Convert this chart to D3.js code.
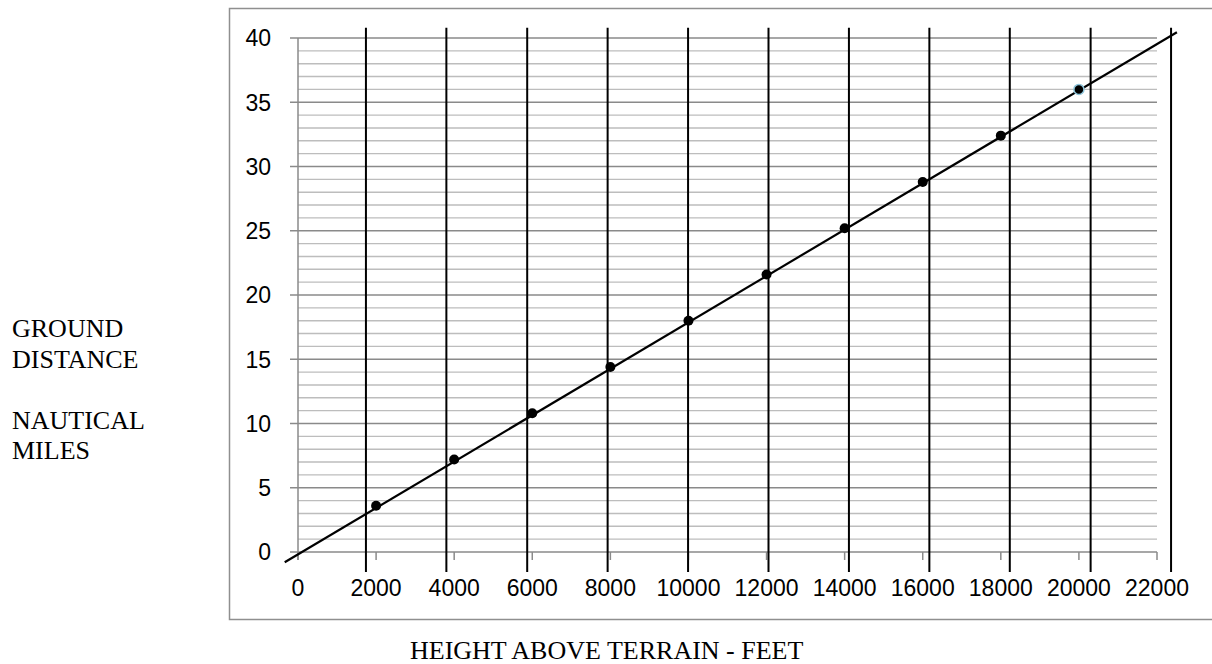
<!DOCTYPE html>
<html>
<head>
<meta charset="utf-8">
<script src="https://cdn.jsdelivr.net/npm/d3@7.9.0/dist/d3.min.js"></script>
<style>
  body { margin: 0; background: #fff; }
  svg { display: block; }
  .tick-label { font-family: "Liberation Sans", Arial, sans-serif; font-size: 23px; fill: #000; }
  .title { font-family: "Liberation Serif", "Times New Roman", serif; font-size: 26px; fill: #000; }
</style>
</head>
<body>
<svg id="chart" width="1212" height="664"></svg>
<script>
// Data
const heights   = [2000, 4000, 6000, 8000, 10000, 12000, 14000, 16000, 18000, 20000];
const distances = [3.6, 7.2, 10.8, 14.4, 18, 21.6, 25.2, 28.8, 32.4, 36];
const xTicks    = [0, 2000, 4000, 6000, 8000, 10000, 12000, 14000, 16000, 18000, 20000, 22000];
const yTicks    = [0, 5, 10, 15, 20, 25, 30, 35, 40];
const yMinor    = [1, 2, 3, 4, 6, 7, 8, 9, 11, 12, 13, 14, 16, 17, 18, 19, 21, 22, 23, 24,
                   26, 27, 28, 29, 31, 32, 33, 34, 36, 37, 38, 39];
// hand-drawn vertical rules (in feet) and their vertical extent (in NM)
const ruleX     = [1740, 3800, 5870, 7930, 9990, 12050, 14110, 16170, 18230, 20300, 22360];
const ruleSpan  = [-1.55, 40.8];
// drawn best-fit line endpoints
const trendX    = [-340, 22510];
const trendY    = [-0.8, 40.45];
const yLabel    = ["GROUND", "DISTANCE", "", "NAUTICAL", "MILES"];
const xLabel    = "HEIGHT ABOVE TERRAIN - FEET";

const svg = d3.select('#chart');

const x = d3.scaleLinear().domain([0, 22000]).range([298, 1157]);
const y = d3.scaleLinear().domain([0, 40]).range([552, 38]);

// outer frame
svg.append('rect')
  .attr('x', 229.5).attr('y', 8.5)
  .attr('width', 1000).attr('height', 611)
  .attr('fill', 'none').attr('stroke', '#8f8f8f').attr('stroke-width', 1.5);

// minor horizontal gridlines
svg.append('g').selectAll('line').data(yMinor).join('line')
  .attr('x1', x(0)).attr('x2', x(22000))
  .attr('y1', d => y(d)).attr('y2', d => y(d))
  .attr('stroke', '#bdbdbd').attr('stroke-width', 1.4);

// major gridlines + y axis ticks
svg.append('g').selectAll('line').data(yTicks).join('line')
  .attr('x1', x(0) - 8).attr('x2', x(22000))
  .attr('y1', d => y(d)).attr('y2', d => y(d))
  .attr('stroke', '#8a8a8a').attr('stroke-width', 1.5);

// y axis line
svg.append('line')
  .attr('x1', x(0)).attr('x2', x(0))
  .attr('y1', y(40)).attr('y2', y(0) + 8)
  .attr('stroke', '#8a8a8a').attr('stroke-width', 1.5);

// x axis ticks
svg.append('g').selectAll('line').data(xTicks).join('line')
  .attr('x1', d => x(d)).attr('x2', d => x(d))
  .attr('y1', y(0)).attr('y2', y(0) + 8)
  .attr('stroke', '#8a8a8a').attr('stroke-width', 1.5);

// tick labels
svg.append('g').selectAll('text').data(yTicks).join('text')
  .attr('class', 'tick-label')
  .attr('x', 271).attr('y', d => y(d)).attr('dy', '0.36em')
  .attr('text-anchor', 'end')
  .text(d => d);

svg.append('g').selectAll('text').data(xTicks).join('text')
  .attr('class', 'tick-label')
  .attr('x', d => x(d)).attr('y', y(0) + 44)
  .attr('text-anchor', 'middle')
  .text(d => d);

// black vertical rules
svg.append('g').selectAll('line').data(ruleX).join('line')
  .attr('x1', d => x(d)).attr('x2', d => x(d))
  .attr('y1', y(ruleSpan[1])).attr('y2', y(ruleSpan[0]))
  .attr('stroke', '#000').attr('stroke-width', 2);

// trend line
svg.append('line')
  .attr('x1', x(trendX[0])).attr('y1', y(trendY[0]))
  .attr('x2', x(trendX[1])).attr('y2', y(trendY[1]))
  .attr('stroke', '#000').attr('stroke-width', 2.2);

// points
svg.append('g').selectAll('circle').data(heights).join('circle')
  .attr('cx', d => x(d))
  .attr('cy', (d, i) => y(distances[i]))
  .attr('r', 5)
  .attr('fill', '#000')
  .attr('stroke', (d, i) => i === heights.length - 1 ? '#8ec5da' : 'none')
  .attr('stroke-width', 1.5);

// axis titles
svg.append('g').selectAll('text').data(yLabel).join('text')
  .attr('class', 'title')
  .attr('x', 12).attr('y', (d, i) => 337 + i * 30.5)
  .text(d => d);

svg.append('text')
  .attr('class', 'title')
  .attr('x', 410).attr('y', 659)
  .text(xLabel);
</script>
</body>
</html>
